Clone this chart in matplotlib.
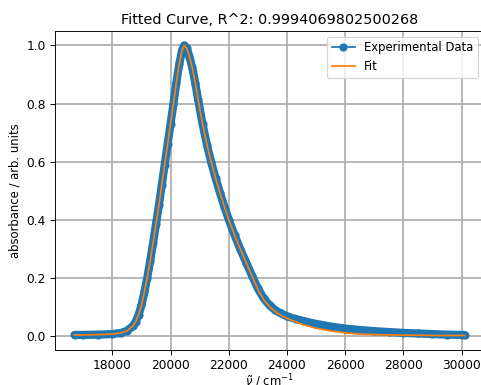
import matplotlib
matplotlib.use("Agg")
import matplotlib.pyplot as plt

# wavenumber grid (cm^-1)
wavenumber = [16700, 17000, 17500, 18000, 18300, 18500, 18700, 18800, 18900, 19000,
              19100, 19200, 19300, 19400, 19500, 19600, 19700, 19800, 19900, 20000,
              20100, 20200, 20300, 20400, 20470, 20550, 20650, 20750, 20850, 20950,
              21100, 21250, 21400, 21550, 21700, 21850, 22000, 22200, 22400, 22600,
              22800, 23000, 23200, 23400, 23600, 23800, 24000, 24300, 24600, 25000,
              25500, 26000, 26500, 27000, 27500, 28000, 28500, 29000, 29500, 30000,
              30100]

absorb_exp = [0.003, 0.003, 0.004, 0.006, 0.010, 0.017, 0.033, 0.048, 0.072, 0.105,
              0.150, 0.200, 0.258, 0.320, 0.385, 0.450, 0.520, 0.590, 0.660, 0.730,
              0.800, 0.872, 0.937, 0.985, 1.000, 0.992, 0.962, 0.922, 0.870, 0.812,
              0.730, 0.658, 0.597, 0.542, 0.492, 0.445, 0.400, 0.347, 0.298, 0.252,
              0.207, 0.163, 0.129, 0.105, 0.088, 0.077, 0.067, 0.058, 0.050, 0.041,
              0.032, 0.025, 0.020, 0.016, 0.013, 0.010, 0.008, 0.006, 0.004, 0.003,
              0.003]

absorb_fit = [0.003, 0.003, 0.004, 0.006, 0.010, 0.017, 0.033, 0.048, 0.072, 0.105,
              0.150, 0.200, 0.258, 0.320, 0.385, 0.450, 0.520, 0.590, 0.660, 0.730,
              0.800, 0.872, 0.937, 0.985, 1.000, 0.992, 0.962, 0.922, 0.870, 0.812,
              0.730, 0.658, 0.597, 0.542, 0.492, 0.445, 0.400, 0.347, 0.298, 0.252,
              0.205, 0.160, 0.125, 0.100, 0.083, 0.070, 0.060, 0.048, 0.037, 0.026,
              0.017, 0.010, 0.006, 0.004, 0.003, 0.002, 0.002, 0.001, 0.001, 0.001,
              0.001]

r_squared = "0.9994069802500268"

DPI = 84
fig = plt.figure(figsize=(481 / DPI, 385 / DPI), dpi=DPI)
ax = fig.add_axes([55 / 481, 35 / 385, 429 / 481, 319 / 385])

# thick band underneath so the dense markers look continuous
ax.plot(wavenumber, absorb_exp, color="C0", lw=7,
        solid_capstyle="round", solid_joinstyle="round")
ax.plot(wavenumber, absorb_exp, "o-", color="C0", markersize=6,
        label="Experimental Data")
ax.plot(wavenumber, absorb_fit, color="C1", label="Fit")

ax.set_title("Fitted Curve, R^2: " + r_squared, fontsize=12.3)
ax.set_xlabel(r"$\tilde{\nu}$ / cm$^{-1}$", labelpad=0)
ax.set_ylabel("absorbance / arb. units")
ax.tick_params(labelsize=10.5, length=4.5)
ax.grid(True, color="#b0b0b0", linewidth=1.5)
ax.legend(loc="upper right")

fig.savefig("out.png", dpi=DPI)
